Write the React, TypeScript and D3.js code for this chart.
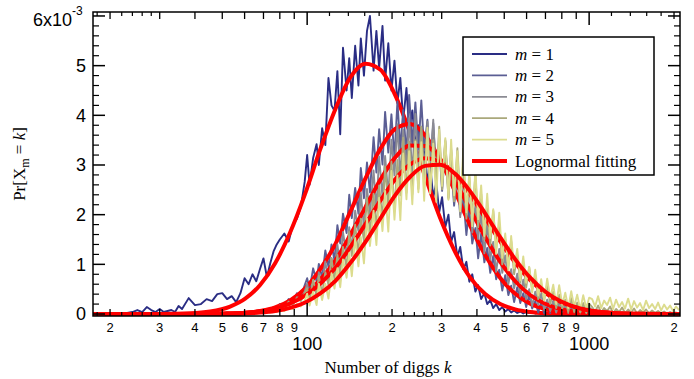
import React from "react";
import * as d3 from "d3";

// ---- data (probabilities in units of 1e-3) ----
const kGrid = [
  18,19,20,21,22,23,24,25,26,27,28,29,30,31,32,33,34,35,36,
  38,40,42,44,46,48,50,52,54,56,58,60,62,64,66,68,70,72,74,76,78,80,
  83,86,89,92,95,98,
  100,102,105,108,110,113,116,119,122,125,128,131,134,138,141,144,148,152,155,159,
  163,167,172,176,180,185,189,194,199,204,209,214,219,225,230,236,242,248,254,260,
  267,273,280,287,294,301,309,317,324,332,341,349,358,367,376,385,395,404,414,425,
  435,446,457,468,480,492,504,517,529,542,556,570,584,598,613,628,644,660,676,693,
  710,728,746,764,783,803,823,843,864,885,907,930,953,977,1000,
  1025,1050,1076,1103,1130,1158,1187,1216,1246,1277,1309,1341,1375,1409,1443,
  1479,1516,1554,1592,1632,1672,1714,1756,1800,1844,1890,1937,1985,2034,2085,
];

const m1 = [
  .02,.01,.02,.02,.01,.02,.04,.08,.04,.14,.08,.04,.10,.04,.06,.08,.04,.16,.10,
  .32,.18,.20,.30,.26,.40,.42,.30,.36,.24,.42,.72,.60,.80,.66,.90,1.12,.74,1.02,1.26,1.40,1.50,
  1.62,1.46,1.80,1.92,2.16,2.66,
  3.20,2.60,3.14,3.42,3.00,3.74,3.40,4.75,4.20,4.09,4.89,3.62,5.36,4.50,5.15,4.35,5.40,4.60,5.55,4.80,
  5.70,6.00,4.90,5.70,4.95,5.80,4.70,5.45,4.50,5.10,4.25,4.75,3.90,4.55,3.70,4.10,3.40,3.80,3.00,3.45,
  2.65,3.00,2.35,2.65,2.05,2.35,1.75,2.00,1.45,1.65,1.15,1.35,.90,1.05,.65,.80,.45,.58,.30,.42,
  .20,.28,.12,.20,.08,.14,.05,.10,.03,.07,.02,.05,.01,.04,
  .02,.05,.01,.03,0,.02,0,.03,0,.01,0,.02,0,0,.01,0,0,.01,0,0,0,
  0,0,0,0,0,0,0,0,0,0,0,0,0,0,0,
  0,0,0,0,0,0,0,0,0,0,0,0,0,0,0,
];

const m2 = [
  0,0,0,0,0,0,0,0,0,0,0,0,0,0,0,0,0,0,0,
  0,.01,0,.02,
  0,.02,0,.03,.01,.04,.01,.05,.02,.06,.03,.08,.04,.10,.06,.14,.09,.20,
  .16,.30,.24,.42,.36,.58,
  .72,.49,.92,.66,1.01,.73,1.28,.95,1.40,1.08,1.79,1.42,2.02,1.63,2.40,1.93,2.54,2.02,2.94,2.33,
  3.05,2.45,3.56,2.85,3.72,3.01,4.07,3.25,4.02,3.14,4.28,3.31,4.11,3.20,4.41,3.42,4.26,3.31,4.30,3.29,
  3.91,2.91,3.84,2.82,3.40,2.48,3.37,2.46,3.00,2.18,2.81,2.00,2.34,1.59,2.14,1.42,1.73,1.12,1.62,1.04,
  1.33,.83,1.17,.70,.89,.47,.78,.38,.57,.24,.54,.22,.42,.14,.38,.11,.26,.03,.24,.01,
  .15,.02,.19,.05,.14,.03,.15,.01,.12,.02,.09,0,.10,.02,.06,
  .03,0,.05,.01,.04,0,.03,.01,.02,0,.03,0,.02,0,.01,
  0,.02,0,0,.01,0,0,.01,0,0,0,0,0,0,0,
];

const m3 = [
  0,0,0,0,0,0,0,0,0,0,0,0,0,0,0,0,0,0,0,
  0,0,0,.01,
  0,.01,0,.02,0,.03,.01,.04,.01,.05,.02,.06,.03,.08,.05,.11,.08,.17,
  .13,.25,.19,.34,.28,.45,
  .61,.33,.65,.38,.84,.61,1.06,.67,1.13,.86,1.40,.96,1.65,1.18,1.75,1.29,2.08,1.67,2.44,1.74,
  2.52,2.01,2.89,2.09,3.17,2.35,3.18,2.38,3.51,2.79,3.82,2.72,3.71,2.90,3.94,2.79,4.03,2.90,3.77,2.73,
  3.87,2.97,3.91,2.67,3.53,2.64,3.50,2.35,3.33,2.27,2.89,1.95,2.76,2.00,2.62,1.64,2.19,1.51,2.03,1.22,
  1.81,1.10,1.45,.85,1.31,.83,1.18,.60,.90,.51,.81,.35,.69,.29,.50,.16,.45,.18,.41,.08,
  .29,.06,.27,.03,.24,.05,.17,.02,.19,.03,.14,.01,.14,.02,.14,
  .07,.01,.05,.02,.08,0,.04,.02,.06,0,.03,.01,.05,0,.02,
  0,.04,0,.02,0,.03,0,.01,0,.02,0,.01,0,0,0,
];

const m4 = [
  0,0,0,0,0,0,0,0,0,0,0,0,0,0,0,0,0,0,0,
  0,0,0,0,
  0,.01,0,.01,0,.02,.01,.03,.01,.04,.02,.05,.03,.07,.05,.10,.07,.16,
  .12,.24,.18,.32,.26,.42,
  .52,.27,.69,.40,.77,.41,.84,.59,1.12,.69,1.19,.78,1.35,.94,1.65,1.17,1.80,1.18,1.92,1.47,
  2.34,1.61,2.42,1.69,2.59,1.89,2.97,2.17,3.07,2.08,3.10,2.39,3.55,2.44,3.47,2.41,3.50,2.52,3.77,2.70,
  3.68,2.43,3.50,2.62,3.77,2.51,3.47,2.32,3.30,2.27,3.34,2.29,3.07,1.92,2.75,1.95,2.80,1.75,2.42,1.50,
  2.16,1.38,2.08,1.32,1.80,1.00,1.51,.97,1.48,.80,1.19,.63,1.01,.53,.94,.49,.77,.30,.60,.29,
  .60,.20,.45,.12,.39,.11,.29,.04,.32,.04,.23,.03,.22,.02,.21,
  .14,.05,.17,.03,.12,.06,.15,.02,.10,.04,.13,.02,.09,.03,.11,
  .01,.08,.03,.09,.01,.07,.02,.06,.01,.05,0,.04,.01,.03,0,
];

const m5 = [
  0,0,0,0,0,0,0,0,0,0,0,0,0,0,0,0,0,0,0,
  0,0,0,0,
  0,0,0,.01,0,.01,0,.02,.01,.02,.01,.03,.02,.04,.03,.06,.04,.09,
  .06,.14,.10,.20,.15,.27,
  .41,.17,.45,.18,.61,.28,.61,.31,.82,.51,.92,.54,1.10,.73,1.23,.76,1.53,.96,1.55,1.02,
  1.92,1.37,2.08,1.39,2.34,1.67,2.48,1.66,2.88,1.90,2.79,1.89,3.23,2.31,3.28,2.21,3.47,2.45,3.46,2.28,
  3.75,2.43,3.43,2.26,3.71,2.58,3.54,2.30,3.51,2.39,3.28,2.07,3.33,2.05,2.85,1.77,2.90,1.91,2.59,1.57,
  2.42,1.53,2.11,1.21,2.04,1.13,1.62,.88,1.57,.92,1.31,.68,1.16,.63,.95,.43,.89,.37,.70,.27,
  .71,.32,.59,.20,.58,.19,.43,.12,.46,.15,.39,.09,.38,.11,.33,
  .30,.15,.36,.12,.27,.18,.33,.10,.29,.14,.24,.11,.31,.09,.26,
  .13,.22,.08,.27,.12,.20,.10,.23,.07,.19,.09,.17,.06,.15,.08,
];

// lognormal fitting curves, read at these k
const fitK = [17.4,23.6,30,38.5,45.3,53.3,60.3,68.1,77,87,98.4,111,126,142,161,182,205,232,262,296,335,378,428,484,547,618,698,789,929,1188,1518,2100];
const fit1 = [0,.0001,.0017,.014,.05,.15,.308,.584,1.021,1.64,2.424,3.298,4.129,4.756,5.04,4.917,4.413,3.645,2.769,1.936,1.246,.737,.402,.202,.093,.04,.015,.006,.001,0,0,0];
const fit2 = [0,0,0,.0004,.0022,.0093,.0247,.0602,.1345,.2755,.518,.894,1.413,2.051,2.729,3.329,3.725,3.823,3.599,3.107,2.46,1.786,1.189,.726,.407,.209,.0985,.0425,.0121,.0014,0,0];
const fit3 = [0,0,0,.0005,.0022,.0085,.0214,.05,.1077,.215,.398,.682,1.08,1.584,2.151,2.705,3.148,3.391,3.382,3.124,2.67,2.113,1.548,1.05,.659,.383,.206,.1027,.0359,.0057,.0007,0];
const fit4 = [0,0,0,.001,.0036,.0119,.0269,.0572,.1137,.2119,.37,.606,.931,1.34,1.808,2.286,2.71,3.012,3.138,3.065,2.806,2.407,1.937,1.46,1.032,.684,.425,.2474,.109,.0256,.0046,.0003];
const fit5 = [0,0,0,.0003,.0013,.005,.0124,.0286,.0617,.1241,.233,.409,.668,1.02,1.451,1.928,2.39,2.764,2.982,3.003,2.822,2.474,2.024,1.545,1.1,.731,.4535,.2624,.1136,.0257,.0044,.0003];

const seriesNames = ["1", "2", "3", "4", "5"];
const fitName = "Lognormal fitting";
const yTickValues = [0, 1, 2, 3, 4, 5, 6];
const xMajorTicks = [100, 1000];
const xMinorTicks = [20, 30, 40, 50, 60, 70, 80, 90, 200, 300, 400, 500, 600, 700, 800, 900, 2000];
const xSubTicks = [18, 22, 24, 26, 28, 120, 140, 160, 180, 220, 240, 260, 280, 1200, 1400, 1600, 1800];

const UNIT = 1e-3;

// ---- styling ----
const dataColors = ["#2a2d84", "#5b5e94", "#8b8b93", "#aaa87b", "#dcdc8e"];
const RED = "#ff0000";

const W = 694, H = 379;
const L = 93, R = 680, T = 12, B = 316;

export default function App() {
  const x = d3.scaleLog().domain([17.4, 2100]).range([L, R]);
  const y = d3.scaleLinear().domain([-0.04 * UNIT, 6.08 * UNIT]).range([B, T]);

  const dataLine = d3
    .line<[number, number]>()
    .x((d) => x(d[0]))
    .y((d) => y(d[1] * UNIT));
  const fitLine = d3
    .line<[number, number]>()
    .x((d) => x(d[0]))
    .y((d) => y(d[1] * UNIT))
    .curve(d3.curveMonotoneX);

  const dataSets = [m1, m2, m3, m4, m5];
  const fits = [fit1, fit2, fit3, fit4, fit5];

  const zip = (ks: number[], vs: number[]) =>
    vs.map((v, i) => [ks[i], v] as [number, number]).filter((d) => d[0] !== undefined);

  const yMinor: number[] = [];
  for (let i = 0; i <= 30; i++) if (i % 5 !== 0) yMinor.push(i / 5);

  const serif = "'Liberation Serif', 'Times New Roman', serif";
  const sans = "'Liberation Sans', Arial, sans-serif";

  const legX = 463, legY = 37, legW = 191, legH = 138;
  const legRow = 21.4;

  return (
    <svg
      width={W}
      height={H}
      style={{ position: "absolute", left: 0, top: 0, background: "#fff" }}
    >
      <defs>
        <clipPath id="plotclip">
          <rect x={L} y={T} width={R - L} height={B - T} />
        </clipPath>
      </defs>
      <rect x={0} y={0} width={W} height={H} fill="#fff" />

      <g clipPath="url(#plotclip)">
        {dataSets.map((vals, i) => (
          <g key={i}>
            <path
              d={dataLine(zip(kGrid, vals)) || ""}
              fill="none"
              stroke={dataColors[i]}
              strokeWidth={1.9}
              strokeLinejoin="round"
            />
            <path
              d={fitLine(zip(fitK, fits[i])) || ""}
              fill="none"
              stroke={RED}
              strokeWidth={4}
              strokeLinecap="round"
              strokeLinejoin="round"
            />
          </g>
        ))}
      </g>

      {/* frame */}
      <rect x={L} y={T} width={R - L} height={B - T} fill="none" stroke="#000" strokeWidth={1.5} />

      {/* y ticks */}
      {yTickValues.map((v) => (
        <g key={"ym" + v}>
          <line x1={L} x2={L + 12} y1={y(v * UNIT)} y2={y(v * UNIT)} stroke="#000" strokeWidth={1.5} />
          <line x1={R} x2={R - 12} y1={y(v * UNIT)} y2={y(v * UNIT)} stroke="#000" strokeWidth={1.5} />
        </g>
      ))}
      {yMinor.map((v) => (
        <g key={"yn" + v}>
          <line x1={L} x2={L + 6} y1={y(v * UNIT)} y2={y(v * UNIT)} stroke="#000" strokeWidth={1.2} />
          <line x1={R} x2={R - 6} y1={y(v * UNIT)} y2={y(v * UNIT)} stroke="#000" strokeWidth={1.2} />
        </g>
      ))}
      {yTickValues.slice(0, 6).map((v) => (
        <text key={"yl" + v} x={86} y={y(v * UNIT)} dy="0.36em" textAnchor="end" fontFamily={sans} fontSize={18}>
          {v}
        </text>
      ))}
      <text x={72} y={26} textAnchor="end" fontFamily={sans} fontSize={18}>
        6x10
      </text>
      <text x={72} y={15} fontFamily={sans} fontSize={12}>
        -3
      </text>

      {/* x ticks */}
      {xMajorTicks.map((k) => (
        <g key={"xm" + k}>
          <line x1={x(k)} x2={x(k)} y1={B} y2={B - 13} stroke="#000" strokeWidth={1.5} />
          <line x1={x(k)} x2={x(k)} y1={T} y2={T + 13} stroke="#000" strokeWidth={1.5} />
          <text x={x(k)} y={350} textAnchor="middle" fontFamily={sans} fontSize={18}>
            {k}
          </text>
        </g>
      ))}
      {xMinorTicks.map((k) => (
        <g key={"xn" + k}>
          <line x1={x(k)} x2={x(k)} y1={B} y2={B - 7} stroke="#000" strokeWidth={1.3} />
          <line x1={x(k)} x2={x(k)} y1={T} y2={T + 7} stroke="#000" strokeWidth={1.3} />
          <text x={x(k)} y={332} textAnchor="middle" fontFamily={sans} fontSize={13}>
            {String(k)[0]}
          </text>
        </g>
      ))}
      {xSubTicks.map((k) => (
        <g key={"xs" + k}>
          <line x1={x(k)} x2={x(k)} y1={B} y2={B - 4} stroke="#000" strokeWidth={1.2} />
          <line x1={x(k)} x2={x(k)} y1={T} y2={T + 4} stroke="#000" strokeWidth={1.2} />
        </g>
      ))}

      {/* axis titles */}
      <text x={388} y={373} textAnchor="middle" fontFamily={serif} fontSize={17}>
        Number of diggs <tspan fontStyle="italic">k</tspan>
      </text>
      <text transform="translate(25,164) rotate(-90)" textAnchor="middle" fontFamily={serif} fontSize={17}>
        Pr[X<tspan fontSize={12} dy={4}>m</tspan>
        <tspan dy={-4}> = </tspan>
        <tspan fontStyle="italic">k</tspan>]
      </text>

      {/* legend */}
      <rect x={legX} y={legY} width={legW} height={legH} fill="#fff" stroke="#000" strokeWidth={1.5} />
      {seriesNames.map((n, i) => (
        <g key={"lg" + n}>
          <line
            x1={472}
            x2={507}
            y1={legY + 17 + i * legRow}
            y2={legY + 17 + i * legRow}
            stroke={dataColors[i]}
            strokeWidth={1.8}
          />
          <text x={515} y={legY + 17 + i * legRow} dy="0.33em" fontFamily={serif} fontSize={17}>
            <tspan fontStyle="italic">m</tspan> = {n}
          </text>
        </g>
      ))}
      <line x1={472} x2={507} y1={legY + 17 + 5 * legRow} y2={legY + 17 + 5 * legRow} stroke={RED} strokeWidth={4} />
      <text x={515} y={legY + 17 + 5 * legRow} dy="0.33em" fontFamily={serif} fontSize={17}>
        {fitName}
      </text>
    </svg>
  );
}
